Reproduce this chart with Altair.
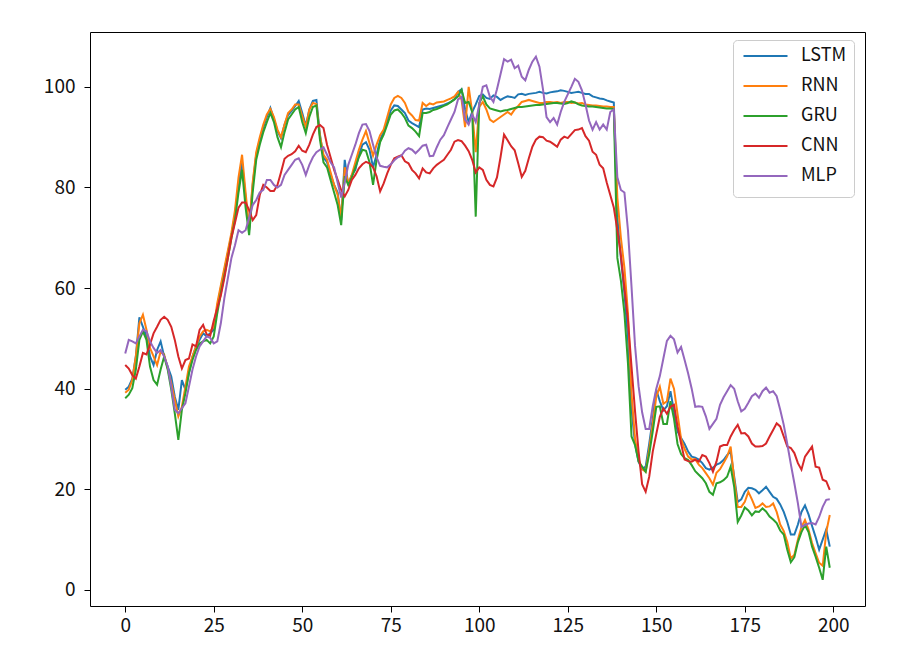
import altair as alt
import pandas as pd

x_vals = list(range(200))

lstm = [
    39.8, 40.4, 42.0, 46.4, 54.2, 52.3, 50.4, 46.4, 44.7, 47.7,
    49.4, 46.4, 44.4, 42.4, 38.4, 35.8, 41.7, 39.8, 43.1, 46.4,
    48.4, 49.7, 51.0, 50.4, 51.0, 51.7, 56.3, 60.0, 63.5, 67.0,
    70.5, 74.5, 80.5, 85.0, 78.0, 71.5, 80.5, 86.5, 89.5, 92.0,
    94.0, 95.8, 93.6, 91.2, 89.8, 92.5, 94.4, 95.2, 96.2, 97.2,
    94.8, 92.2, 95.5, 97.2, 97.4, 90.5, 86.0, 85.0, 82.5, 80.5,
    79.0, 73.5, 85.5, 80.5, 82.5, 83.5, 86.5, 88.5, 89.0, 87.5,
    84.0, 86.5, 89.5, 91.0, 93.3, 95.3, 96.3, 96.2, 95.5, 94.8,
    93.3, 92.8, 92.4, 92.0, 95.5, 95.7, 95.6, 95.8, 96.0, 96.2,
    96.4, 96.7, 97.0, 97.5, 99.0, 99.5, 95.5, 93.0, 95.0, 96.5,
    98.2, 98.5, 97.8, 97.6, 98.3, 98.0, 97.4, 97.8, 98.1, 98.0,
    97.8, 98.5, 98.6, 98.4, 98.6, 98.7, 98.8, 99.0, 98.8, 98.7,
    98.9, 99.0, 99.1, 99.3, 99.2, 99.0, 98.8, 98.9, 99.0, 98.8,
    98.6, 98.6, 98.1, 97.9, 97.7, 97.6, 97.3, 97.1, 96.9, 74.0,
    66.0, 59.0, 50.0, 36.0, 29.0, 25.5, 24.0, 24.5, 29.0, 34.0,
    39.8, 37.5, 35.7, 36.5, 39.5, 35.5, 31.5, 30.2, 29.0, 27.5,
    26.5, 26.3, 25.9, 25.2, 24.2, 23.9, 24.3, 24.9, 25.2, 25.8,
    26.8, 27.5, 22.5, 17.5, 18.0, 19.5, 20.3, 20.2, 19.9, 19.2,
    19.8, 20.5, 19.5, 18.5, 18.1, 17.0, 15.5, 13.5, 11.0, 11.0,
    13.0, 15.5, 16.8, 15.0, 12.7, 10.5, 8.0, 10.0, 12.0, 8.6,
]

rnn = [
    39.2, 39.8, 41.7, 46.4, 53.0, 54.7, 51.7, 48.1, 46.4, 44.7,
    47.4, 46.8, 44.0, 41.1, 37.8, 34.5, 36.4, 40.4, 44.4, 46.4,
    48.4, 50.4, 51.4, 51.7, 51.4, 52.3, 57.0, 60.5, 64.0, 67.5,
    71.0, 75.5, 82.0, 86.5, 79.0, 72.0, 81.0, 87.0, 90.0, 92.5,
    94.5, 95.6, 94.0, 91.5, 90.0, 92.5, 94.8, 95.5, 96.5, 96.5,
    94.2, 92.0, 95.5, 96.8, 96.6, 90.2, 86.5, 85.5, 83.0, 80.5,
    78.5, 74.0, 84.0, 80.8, 82.5, 85.0, 87.5, 89.5, 91.2, 88.8,
    86.3, 88.5, 90.4, 91.5, 94.0, 96.5, 97.8, 98.2, 97.8, 96.8,
    95.0, 94.3, 93.4, 93.3, 96.8, 96.2, 96.7, 96.5, 96.9, 97.0,
    97.1, 97.4, 97.7, 98.1, 99.0, 97.4, 92.0, 100.0, 95.0, 87.0,
    96.0, 97.0, 95.5, 93.5, 93.0, 93.5, 94.0, 94.5, 95.0, 94.5,
    95.5, 96.2, 97.0, 97.2, 97.4, 97.2, 97.0, 96.8, 96.8, 97.0,
    97.0, 96.9, 97.0, 96.8, 97.0, 97.0, 96.8, 96.9, 96.7, 96.8,
    96.5, 96.4, 96.3, 96.3, 96.2, 96.1, 96.1, 96.0, 96.0, 78.0,
    70.0, 64.0, 55.0, 39.0, 30.0, 26.0, 24.0, 23.5, 28.0, 33.0,
    38.4, 40.4, 37.0, 37.5, 42.0, 40.0, 35.0, 30.0, 28.0, 26.5,
    25.9, 26.0, 24.9, 24.2, 23.2, 22.2, 20.9, 23.3, 24.0, 25.2,
    26.5, 28.5, 22.0, 16.5, 16.5, 17.5, 19.5, 18.0, 16.3, 16.6,
    17.2, 16.5, 16.6, 17.2, 15.5, 13.0, 11.7, 9.5, 6.2, 7.0,
    10.0, 12.5, 13.9, 12.0, 9.3, 7.3, 5.4, 4.8, 11.5, 14.9,
]

gru = [
    38.1, 38.8, 40.1, 43.8, 49.7, 51.4, 49.7, 44.4, 41.7, 40.8,
    43.8, 46.4, 43.8, 39.8, 35.1, 29.8, 35.8, 39.1, 43.1, 45.7,
    47.7, 49.0, 49.4, 49.7, 49.0, 50.4, 55.0, 59.0, 62.5, 66.0,
    70.0, 73.5, 79.0, 83.5, 76.0, 70.5, 79.0, 85.5, 88.5, 91.0,
    93.0, 94.8, 93.0, 90.0, 88.0, 91.0, 93.5, 94.5, 95.5, 96.0,
    93.0, 90.8, 94.0, 96.0, 96.3, 89.5, 85.0, 84.0, 81.5, 79.0,
    76.5, 72.5, 82.2, 80.5, 82.0, 84.0, 86.0, 87.5, 87.3, 85.0,
    80.5, 85.5, 89.0, 90.5, 92.5, 94.5, 95.3, 95.5, 94.8, 93.8,
    92.3, 91.8, 91.1, 90.2, 94.8, 94.8, 95.0, 95.4, 95.6, 95.9,
    96.2, 96.5, 97.0, 97.5, 98.1, 99.4, 96.8, 97.0, 95.0, 74.2,
    96.8, 98.1, 96.5, 95.7, 95.5, 95.3, 95.1, 95.3, 95.4, 95.6,
    95.8, 96.0, 96.0, 96.1, 96.2, 96.3, 96.4, 96.4, 96.5, 96.6,
    96.7, 96.8, 96.8, 96.7, 96.6, 96.8, 97.1, 96.9, 96.5, 96.3,
    96.2, 96.1, 96.1, 96.0, 95.9, 95.8, 95.7, 95.7, 95.6, 66.0,
    61.5, 55.0, 45.0, 30.5, 28.8, 25.5, 24.5, 23.5, 27.0, 31.5,
    36.4, 36.5, 33.0, 33.0, 37.5, 34.0, 29.0, 27.0, 26.2, 25.8,
    24.8, 23.6, 22.9, 22.2, 21.2, 19.5, 18.9, 21.2, 21.4, 21.8,
    22.5, 24.5, 20.5, 13.5, 14.8, 16.4, 15.8, 14.8, 15.6, 15.5,
    16.2, 15.6, 14.6, 14.0, 13.3, 11.8, 11.0, 8.0, 5.5, 6.5,
    9.5, 11.5, 12.9, 11.5, 8.6, 6.6, 4.4, 2.0, 8.6, 4.4,
]

cnn = [
    44.7, 44.0, 42.7, 42.0, 44.4, 47.1, 46.8, 48.8, 51.0, 52.3,
    53.7, 54.3, 53.7, 52.3, 49.7, 46.4, 44.0, 45.7, 46.0, 48.8,
    48.4, 51.7, 52.7, 50.8, 50.5, 53.5, 56.0, 58.5, 62.0, 66.0,
    70.0, 73.0, 76.0, 77.0, 77.0, 75.5, 73.5, 74.5, 78.5, 80.5,
    80.0, 79.3, 79.3, 80.5, 83.0, 85.7, 86.3, 86.6, 87.2, 88.3,
    87.3, 87.0, 88.5, 90.5, 92.0, 92.4, 91.8, 88.5, 86.0, 83.5,
    81.5, 79.5, 78.2, 79.5, 81.5, 82.5, 83.8, 84.6, 85.1, 84.8,
    84.0, 82.2, 79.2, 80.8, 82.8, 84.5, 85.8, 86.1, 86.4, 85.2,
    84.8, 83.5, 82.8, 81.8, 83.8, 83.0, 82.8, 83.8, 84.5, 85.0,
    85.5, 86.5, 87.5, 89.1, 89.4, 89.2, 88.3, 87.2, 85.5, 83.0,
    84.0, 83.5, 81.5, 80.5, 80.2, 82.0, 86.0, 90.5, 89.4, 88.2,
    87.4, 84.8, 82.1, 83.3, 85.8, 88.1, 89.5, 90.1, 90.0, 89.3,
    89.1, 88.6, 88.1, 89.5, 90.1, 89.8, 90.6, 91.4, 91.5, 91.8,
    90.2, 89.3, 87.1, 86.5, 84.5, 83.8, 81.0, 78.5, 76.0, 71.5,
    66.5, 60.0, 53.7, 44.4, 35.5, 27.5, 21.0, 19.5, 22.5, 27.5,
    31.0, 34.4, 36.1, 35.0, 36.4, 36.8, 32.5, 29.1, 25.9, 25.6,
    25.5, 25.9, 25.5, 26.8, 26.5, 25.2, 23.5, 25.5, 28.5, 28.8,
    28.8, 30.5, 31.8, 32.8, 31.1, 31.2, 30.5, 29.1, 28.5, 28.5,
    28.6, 29.1, 30.5, 31.8, 33.1, 32.5, 30.5, 28.5, 28.2, 27.2,
    25.2, 23.9, 26.5, 27.5, 28.5, 24.5, 24.3, 21.9, 21.6, 19.9,
]

mlp = [
    47.0, 49.7, 49.4, 49.0, 50.4, 51.7, 51.4, 49.4, 48.1, 47.1,
    47.7, 46.4, 44.4, 40.4, 35.8, 35.1, 36.1, 37.1, 40.4, 43.8,
    46.4, 48.4, 49.4, 50.4, 50.1, 49.0, 49.4, 53.0, 58.0, 62.0,
    66.0, 68.5, 71.5, 71.0, 71.5, 74.0, 76.5, 77.5, 79.0, 79.5,
    81.5, 81.5, 80.5, 80.0, 80.5, 82.5, 83.5, 84.5, 85.5, 85.8,
    84.5, 82.5, 84.5, 86.0, 87.0, 87.5, 88.0, 86.5, 85.0, 84.0,
    81.0, 78.0, 81.0, 84.5, 86.5, 88.5, 90.8, 92.5, 92.6, 91.2,
    88.5, 86.0, 84.3, 84.1, 84.0, 84.6, 85.4, 86.0, 86.3, 87.3,
    87.8, 87.5, 86.8, 87.5, 88.3, 88.5, 86.2, 86.3, 88.0, 89.5,
    90.4, 92.0, 93.5, 95.0, 97.5, 98.0, 93.5, 92.5, 94.5, 93.0,
    96.5, 100.0, 100.3, 98.0, 97.0, 99.5, 102.5, 105.5, 105.0, 105.4,
    103.7, 104.2, 102.0, 101.3, 103.4, 105.0, 106.0, 104.0, 99.5, 94.0,
    93.0, 93.8, 92.5, 95.0, 97.0, 98.5, 100.0, 101.6, 101.0, 99.3,
    96.5, 93.3, 91.5, 93.0, 91.5, 92.5, 91.5, 95.0, 95.5, 82.0,
    79.5, 79.0, 71.5, 60.3, 48.5, 40.5, 35.3, 32.0, 32.0, 36.5,
    40.0, 42.5, 46.0, 49.5, 50.5, 49.8, 47.2, 48.3, 45.7, 43.0,
    40.0, 36.4, 36.5, 36.4, 34.5, 32.0, 33.0, 34.0, 36.8, 38.3,
    39.5, 40.7, 40.0, 37.5, 35.5, 36.0, 37.2, 38.5, 39.0, 38.2,
    39.5, 40.2, 39.2, 39.5, 38.5, 35.8, 32.8, 29.0, 25.0, 21.2,
    17.2, 12.5, 12.9, 13.2, 13.3, 13.0, 14.5, 16.5, 17.9, 18.0,
]

series_names = ["LSTM", "RNN", "GRU", "CNN", "MLP"]
series_colors = ["#1f77b4", "#ff7f0e", "#2ca02c", "#d62728", "#9467bd"]
x_ticks = [0, 25, 50, 75, 100, 125, 150, 175, 200]
y_ticks = [0, 20, 40, 60, 80, 100]

rows = []
for name, vals in zip(series_names, [lstm, rnn, gru, cnn, mlp]):
    for xi, v in zip(x_vals, vals):
        rows.append({"step": xi, "value": v, "model": name})
df = pd.DataFrame(rows)

FONT = "Noto Sans CJK SC"

axis_common = dict(
    title=None, grid=False, domain=False, ticks=True, tickSize=6,
    tickColor="black", tickWidth=1, labelFont=FONT, labelFontSize=19,
    labelColor="#111111",
)

chart = alt.Chart(df).mark_line(strokeWidth=2, clip=True).encode(
    x=alt.X("step:Q",
            scale=alt.Scale(domain=[-9.95, 208.95], nice=False, zero=False),
            axis=alt.Axis(values=x_ticks, labelPadding=4, **axis_common)),
    y=alt.Y("value:Q",
            scale=alt.Scale(domain=[-3.2, 110.9], nice=False, zero=False),
            axis=alt.Axis(values=y_ticks, labelPadding=9, **axis_common)),
    color=alt.Color("model:N",
                    scale=alt.Scale(domain=series_names, range=series_colors),
                    sort=series_names,
                    legend=alt.Legend(
                        title=" ", titleOrient="bottom", titleFontSize=2,
                        titlePadding=3,
                        orient="none", legendX=643, legendY=8,
                        symbolType="M-1,0H7", symbolSize=121, symbolStrokeWidth=2,
                        labelOffset=43, labelFont=FONT, labelFontSize=18,
                        labelColor="#111111", labelLimit=300,
                        strokeColor="#cccccc", fillColor="white", padding=7,
                        cornerRadius=4, rowPadding=12,
                    )),
).properties(
    width=775, height=574,
    autosize=alt.AutoSizeParams(type="none"),
    padding={"left": 82, "top": 24, "right": 46, "bottom": 46},
    background="white",
).configure_view(stroke="black", strokeWidth=1)

chart.save("out.html", embed_options={"renderer": "svg", "actions": False})
